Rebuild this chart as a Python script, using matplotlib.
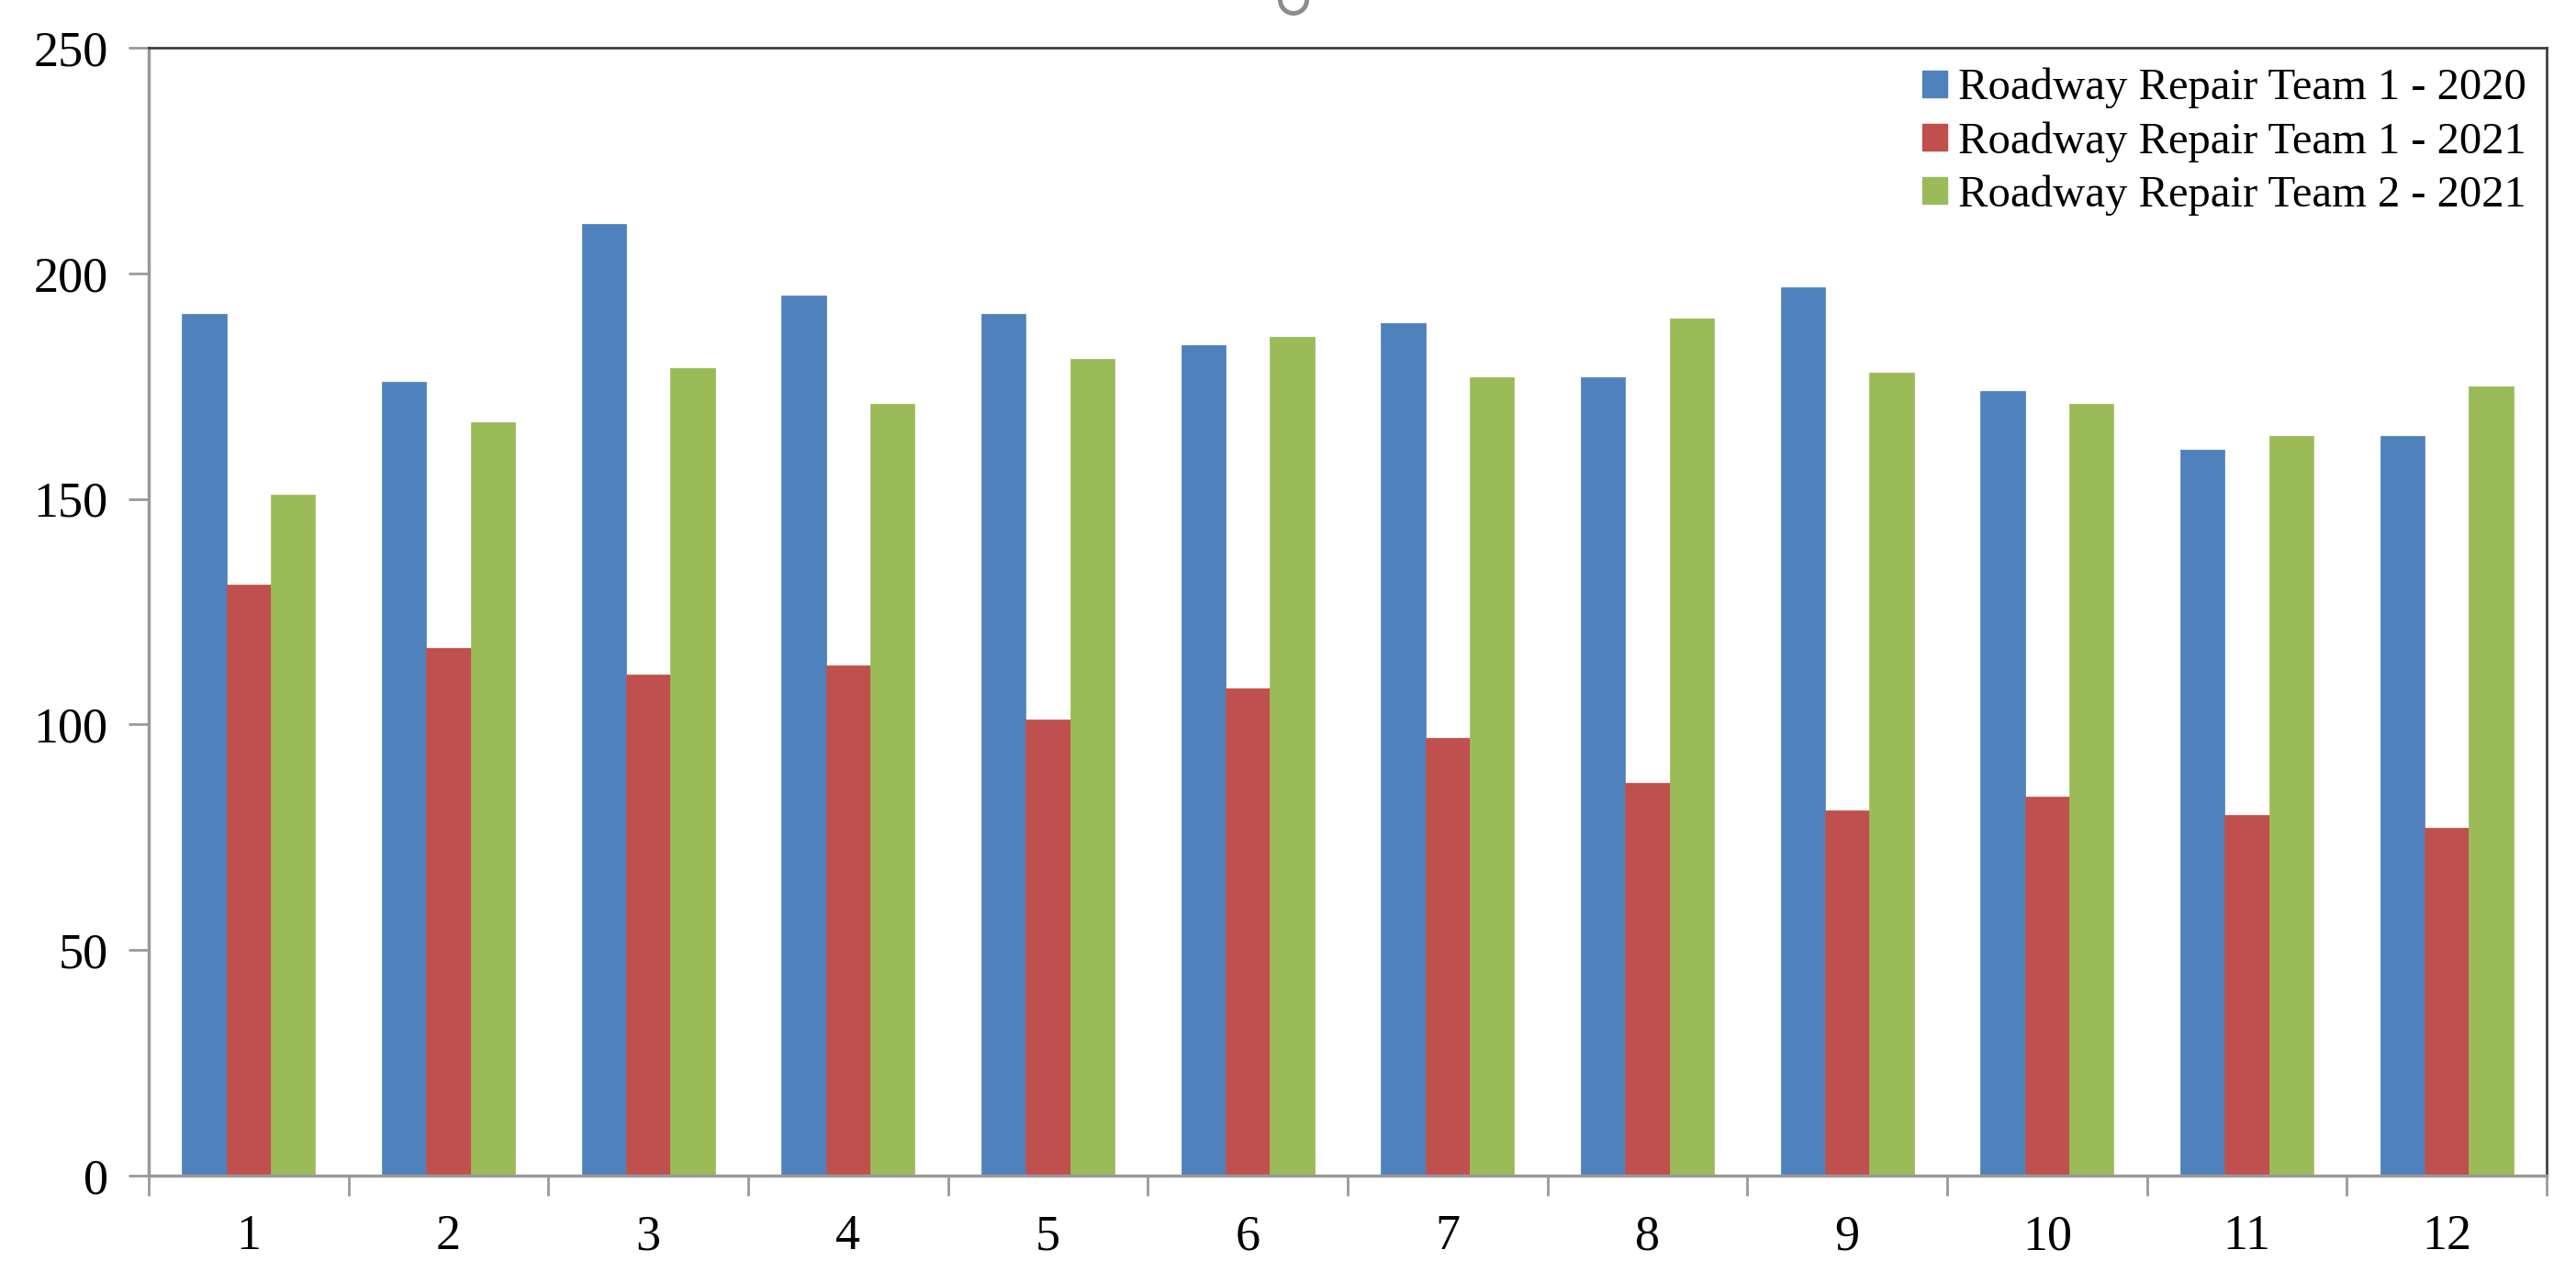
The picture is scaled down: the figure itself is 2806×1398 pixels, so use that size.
import matplotlib
matplotlib.use("Agg")
import matplotlib.pyplot as plt
from matplotlib.patches import Patch, Ellipse
import numpy as np

categories = ["1", "2", "3", "4", "5", "6", "7", "8", "9", "10", "11", "12"]
team1_2020 = [191, 176, 211, 195, 191, 184, 189, 177, 197, 174, 161, 164]
team1_2021 = [131, 117, 111, 113, 101, 108, 97, 87, 81, 84, 80, 77]
team2_2021 = [151, 167, 179, 171, 181, 186, 177, 190, 178, 171, 164, 175]
series_names = ["Roadway Repair Team 1 - 2020", "Roadway Repair Team 1 - 2021",
                "Roadway Repair Team 2 - 2021"]
colors = ["#4F81BD", "#C0504D", "#9BBB59"]
y_ticks = [0, 50, 100, 150, 200, 250]

plt.rcParams['font.family'] = ['Liberation Serif', 'DejaVu Serif']

W, H = 2806, 1398
fig = plt.figure(figsize=(W / 100, H / 100), dpi=100)
ax = fig.add_axes([162 / W, 1 - 1281 / H, (2774 - 162) / W, (1281 - 52) / H])

x = np.arange(len(categories))
w = 1 / 4.5
for i, (vals, c) in enumerate(zip([team1_2020, team1_2021, team2_2021], colors)):
    ax.bar(x + (i - 1) * w, vals, width=w, color=c, edgecolor=c, linewidth=0.5, zorder=2)

ax.set_xlim(-0.5, len(categories) - 0.5)
ax.set_ylim(0, 250)
ax.set_yticks(y_ticks)
ax.set_yticklabels([str(t) for t in y_ticks], fontsize=39)
ax.tick_params(axis='y', length=16, width=2, color='#999999', pad=16)

# category labels centered, tick marks at boundaries
ax.set_xticks(np.arange(-0.5, len(categories), 1.0))
ax.set_xticklabels([])
ax.set_xticks(x, minor=True)
ax.set_xticklabels(categories, minor=True, fontsize=39)
ax.tick_params(axis='x', which='major', length=16, width=2, color='#999999')
ax.tick_params(axis='x', which='minor', length=0, pad=30)

for s in ['left', 'bottom']:
    ax.spines[s].set_color('#999999')
    ax.spines[s].set_linewidth(2.5)
for s in ['top', 'right']:
    ax.spines[s].set_color('#404040')
    ax.spines[s].set_linewidth(2)

handles = [Patch(facecolor=c, edgecolor=c) for c in colors]
leg = ax.legend(handles, series_names, loc='upper right',
                bbox_to_anchor=(2752 / W, 1 - 74 / H), bbox_transform=fig.transFigure,
                frameon=False, fontsize=35, handlelength=0.55, handleheight=0.55,
                handletextpad=0.25, labelspacing=0.28, borderpad=0, borderaxespad=0)

# partially visible gray mark at top centre (cropped title glyph)
fig.add_artist(Ellipse((1409 / W, 1 - 0 / H), 29 / W, 29 / H, transform=fig.transFigure,
                       fill=False, edgecolor='#8C8C8C', linewidth=3.6, clip_on=False))

fig.savefig("out.png", dpi=100)
